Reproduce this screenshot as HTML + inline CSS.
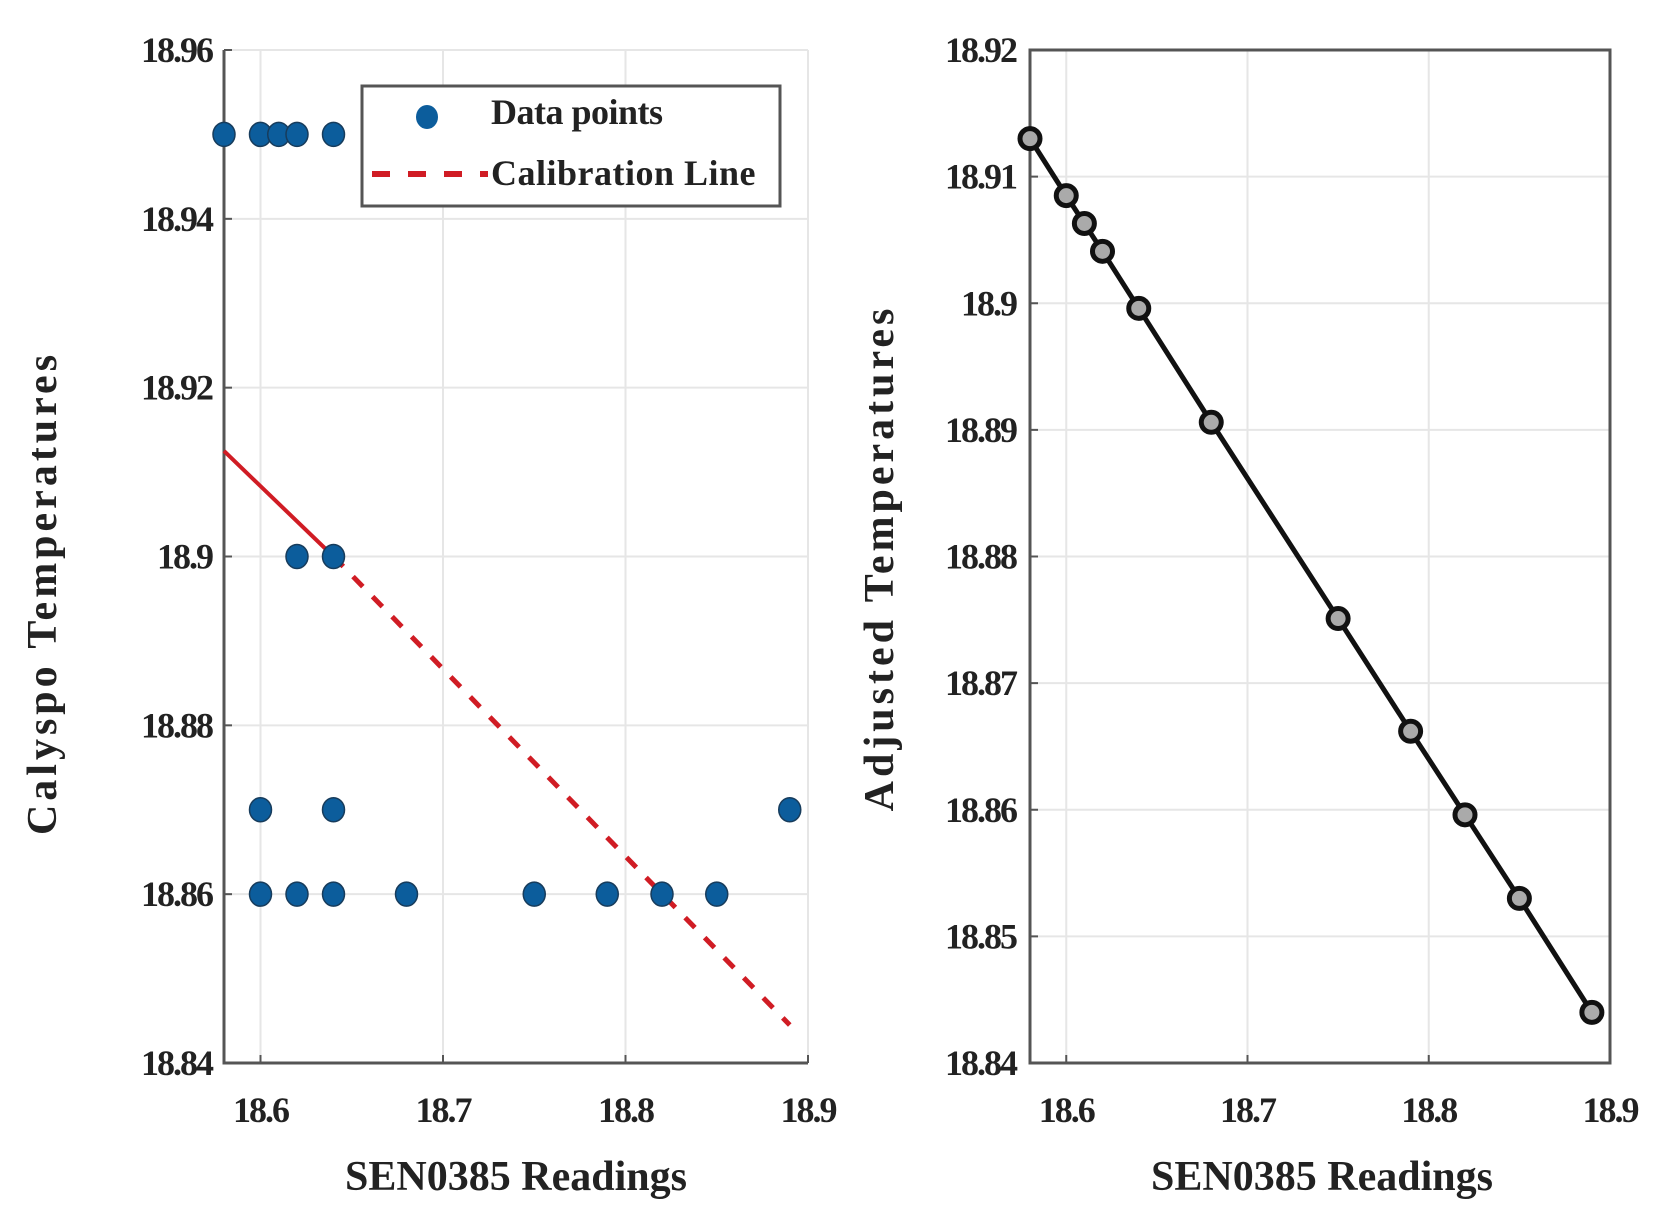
<!DOCTYPE html>
<html><head><meta charset="utf-8"><style>
html,body{margin:0;padding:0;background:#fff;}
svg{display:block;}
text{font-family:"Liberation Serif",serif;font-weight:bold;fill:#222;}
</style></head><body>
<svg id="c" width="1666" height="1222"></svg>
<script>
const xTicks=[18.6,18.7,18.8,18.9];
const leftYTicks=[18.84,18.86,18.88,18.90,18.92,18.94,18.96];
const leftYLabels=["18.84","18.86","18.88","18.9","18.92","18.94","18.96"];
const rightYTicks=[18.84,18.85,18.86,18.87,18.88,18.89,18.90,18.91,18.92];
const rightYLabels=["18.84","18.85","18.86","18.87","18.88","18.89","18.9","18.91","18.92"];
const dataX=[18.58,18.60,18.61,18.62,18.64,18.62,18.64,18.60,18.64,18.89,18.60,18.62,18.64,18.68,18.75,18.79,18.82,18.85];
const dataY=[18.95,18.95,18.95,18.95,18.95,18.90,18.90,18.87,18.87,18.87,18.86,18.86,18.86,18.86,18.86,18.86,18.86,18.86];
const calX=[18.58,18.64,18.89];
const calY=[18.9125,18.9000,18.8445];
const adjX=[18.58,18.60,18.61,18.62,18.64,18.68,18.75,18.79,18.82,18.85,18.89];
const adjY=[18.913,18.9085,18.9063,18.9041,18.8996,18.8906,18.8751,18.8662,18.8596,18.853,18.844];

const NS="http://www.w3.org/2000/svg";
const svg=document.getElementById('c');
function el(t,a,p){const e=document.createElementNS(NS,t);for(const k in a)e.setAttribute(k,a[k]);(p||svg).appendChild(e);return e;}

// Left panel
const L0=224,L1=808;
const LX=v=>L0+(v-18.58)/0.32*(L1-L0);
const LY=v=>1063-(v-18.84)/0.12*(1063-50);
const gL=el('g',{});


xTicks.forEach(t=>{const g=el('line',{x1:LX(t),x2:LX(t),y1:50,y2:1063,stroke:'#e6e6e6','stroke-width':2},gL);});
leftYTicks.forEach(t=>{const g=el('line',{x1:L0,x2:L1,y1:LY(t),y2:LY(t),stroke:'#e6e6e6','stroke-width':2},gL);});
const la=el('path',{d:`M${L0} 50 V1063 H${L1}`,fill:'none',stroke:'#555','stroke-width':3},gL);

xTicks.forEach(t=>{el('line',{x1:LX(t),x2:LX(t),y1:1063,y2:1055,stroke:'#555','stroke-width':2},gL);
 const tx=el('text',{x:LX(t),y:1122,'text-anchor':'middle','font-size':36,'letter-spacing':-2},gL);tx.textContent=t.toFixed(1);
 });
leftYTicks.forEach((t,i)=>{el('line',{x1:L0,x2:L0+8,y1:LY(t),y2:LY(t),stroke:'#555','stroke-width':2},gL);
 const tx=el('text',{x:212,y:LY(t)+12,'text-anchor':'end','font-size':36,'letter-spacing':-2},gL);tx.textContent=leftYLabels[i];
 });
const cs=el('line',{x1:LX(calX[0]),y1:LY(calY[0]),x2:LX(calX[1]),y2:LY(calY[1]),stroke:'#d01c24','stroke-width':4},gL);

const cd=el('line',{x1:LX(calX[1]),y1:LY(calY[1]),x2:LX(calX[2]),y2:LY(calY[2]),stroke:'#d01c24','stroke-width':5,'stroke-dasharray':'14 14'},gL);

dataX.forEach((x,i)=>{const c=el('ellipse',{cx:LX(x),cy:LY(dataY[i]),rx:11,ry:12,fill:'#0c5d9c',stroke:'#173c5c','stroke-width':1.5},gL);
 });
const lg=el('g',{},gL);
el('rect',{x:362,y:86,width:418,height:120,fill:'#fff',stroke:'#555','stroke-width':3},lg);
el('ellipse',{cx:427,cy:117,rx:11,ry:12,fill:'#0c5d9c'},lg);
const t1=el('text',{x:491,y:124,'font-size':36,'letter-spacing':-0.5},lg);t1.textContent='Data points';

el('line',{x1:372,x2:488,y1:174,y2:174,stroke:'#d01c24','stroke-width':6,'stroke-dasharray':'18 18'},lg);
const t2=el('text',{x:491,y:185,'font-size':36,'letter-spacing':0.5},lg);t2.textContent='Calibration Line';

const xl=el('text',{x:516,y:1190,'text-anchor':'middle','font-size':42,'letter-spacing':0},gL);xl.textContent='SEN0385 Readings';

const yl=el('text',{x:0,y:0,'text-anchor':'middle','font-size':42,'letter-spacing':4,transform:'translate(56,593) rotate(-90)'},gL);yl.textContent='Calyspo Temperatures';


// Right panel
const R0=1030,R1=1610;
const RX=v=>R0+(v-18.58)/0.32*(R1-R0);
const RY=v=>1063-(v-18.84)/0.08*(1063-50);
const gR=el('g',{});


xTicks.forEach(t=>{const g=el('line',{x1:RX(t),x2:RX(t),y1:50,y2:1063,stroke:'#e6e6e6','stroke-width':2},gR);});
rightYTicks.forEach(t=>{const g=el('line',{x1:R0,x2:R1,y1:RY(t),y2:RY(t),stroke:'#e6e6e6','stroke-width':2},gR);});
const ra=el('rect',{x:R0,y:50,width:R1-R0,height:1013,fill:'none',stroke:'#555','stroke-width':3},gR);

xTicks.forEach(t=>{el('line',{x1:RX(t),x2:RX(t),y1:1063,y2:1055,stroke:'#555','stroke-width':2},gR);
 const tx=el('text',{x:RX(t),y:1122,'text-anchor':'middle','font-size':36,'letter-spacing':-2},gR);tx.textContent=t.toFixed(1);
 });
rightYTicks.forEach((t,i)=>{el('line',{x1:R0,x2:R0+8,y1:RY(t),y2:RY(t),stroke:'#555','stroke-width':2},gR);
 const tx=el('text',{x:1016,y:RY(t)+12,'text-anchor':'end','font-size':36,'letter-spacing':-2},gR);tx.textContent=rightYLabels[i];
 });
const pl=el('polyline',{points:adjX.map((x,i)=>RX(x)+','+RY(adjY[i])).join(' '),fill:'none',stroke:'#111','stroke-width':5},gR);

adjX.forEach((x,i)=>{const c=el('circle',{cx:RX(x),cy:RY(adjY[i]),r:10,fill:'#aaa',stroke:'#111','stroke-width':5},gR);
 });
const xr=el('text',{x:1322,y:1190,'text-anchor':'middle','font-size':42,'letter-spacing':0},gR);xr.textContent='SEN0385 Readings';

const yr=el('text',{x:0,y:0,'text-anchor':'middle','font-size':42,'letter-spacing':4,transform:'translate(893,558) rotate(-90)'},gR);yr.textContent='Adjusted Temperatures';

</script>
</body></html>
